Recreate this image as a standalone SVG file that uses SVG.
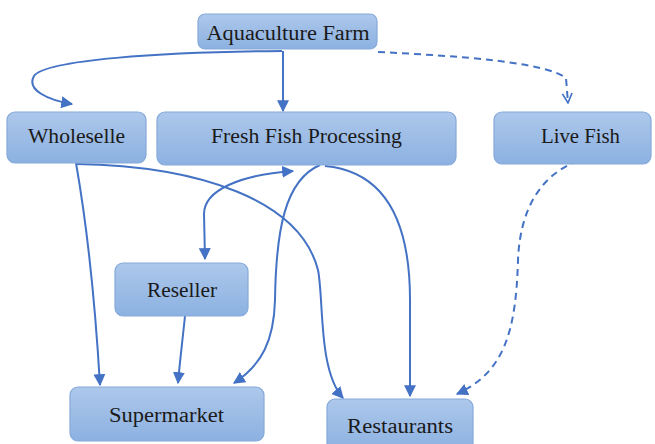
<svg xmlns="http://www.w3.org/2000/svg" width="655" height="444" viewBox="0 0 655 444">
<defs>
<linearGradient id="g" x1="0" y1="0" x2="0" y2="1">
<stop offset="0" stop-color="#adc8eb"/>
<stop offset="1" stop-color="#8cb1e1"/>
</linearGradient>
<marker id="ah" viewBox="0 0 10 10" refX="9" refY="5" markerWidth="6" markerHeight="6" orient="auto-start-reverse" markerUnits="strokeWidth">
<path d="M0,0 L10,5 L0,10 Z" fill="#4472c4"/>
</marker>
<marker id="oh" viewBox="0 0 10 10" refX="9" refY="5" markerWidth="6" markerHeight="6" orient="auto" markerUnits="strokeWidth">
<path d="M1,1 L9,5 L1,9" fill="none" stroke="#4472c4" stroke-width="1.4"/>
</marker>
<style>
.box{fill:url(#g);stroke:#86a9da;stroke-width:1.2}
.lbl{font-family:"Liberation Serif","Times New Roman",serif;font-size:20px;fill:#1a1a1a;text-anchor:middle}
.c{fill:none;stroke:#4472c4;stroke-width:2}
.d{stroke-dasharray:7,5}
</style>
</defs>
<g id="connectors">
<path class="c" d="M282,51 C160,52 45,60 34,76 C26,90 48,100 72,104" marker-end="url(#ah)"/>
<path class="c" d="M283,51 L283,111" marker-end="url(#ah)"/>
<path class="c d" d="M378,52 C460,56 545,62 566,78 L568,103" marker-end="url(#oh)"/>
<path class="c" d="M76,163 C86,220 95,300 100,385" marker-end="url(#ah)"/>
<path class="c" d="M76,164 C200,166 300,200 318,270 C324,300 318,370 343,398" marker-end="url(#ah)"/>
<path class="c" d="M205,259 L204,214 C204,190 240,175 293,171" marker-start="url(#ah)" marker-end="url(#ah)"/>
<path class="c" d="M185,316 C182,345 180,360 178,383" marker-end="url(#ah)"/>
<path class="c" d="M320,165 C285,180 276,230 275,300 C274,340 262,365 234,383" marker-end="url(#ah)"/>
<path class="c" d="M325,166 C390,172 410,230 410,300 L410,396" marker-end="url(#ah)"/>
<path class="c d" d="M578,161 C540,175 520,210 518,260 C516,330 505,372 457,394" marker-end="url(#ah)"/>
</g>
<g id="aquaculture">
<rect class="box" x="198" y="14" width="179" height="35" rx="7"/>
<text class="lbl" x="288" y="40" textLength="163" lengthAdjust="spacingAndGlyphs">Aquaculture Farm</text>
</g>
<g id="wholeselle">
<rect class="box" x="7" y="112" width="139" height="51" rx="8"/>
<text class="lbl" x="76.5" y="143" textLength="97" lengthAdjust="spacingAndGlyphs">Wholeselle</text>
</g>
<g id="processing">
<rect class="box" x="157" y="112" width="299" height="53" rx="8"/>
<text class="lbl" x="306.5" y="143" textLength="191" lengthAdjust="spacingAndGlyphs">Fresh Fish Processing</text>
</g>
<g id="livefish">
<rect class="box" x="494" y="112" width="157" height="52" rx="8"/>
<text class="lbl" x="580.5" y="143" textLength="79" lengthAdjust="spacingAndGlyphs">Live Fish</text>
</g>
<g id="reseller">
<rect class="box" x="115" y="263" width="133" height="53" rx="8"/>
<text class="lbl" x="182" y="297" textLength="70" lengthAdjust="spacingAndGlyphs">Reseller</text>
</g>
<g id="supermarket">
<rect class="box" x="70" y="387" width="194" height="54" rx="8"/>
<text class="lbl" x="166.5" y="422" textLength="115" lengthAdjust="spacingAndGlyphs">Supermarket</text>
</g>
<g id="restaurants">
<rect class="box" x="327" y="399" width="146" height="52" rx="8"/>
<text class="lbl" x="400" y="433" textLength="106" lengthAdjust="spacingAndGlyphs">Restaurants</text>
</g>
</svg>
